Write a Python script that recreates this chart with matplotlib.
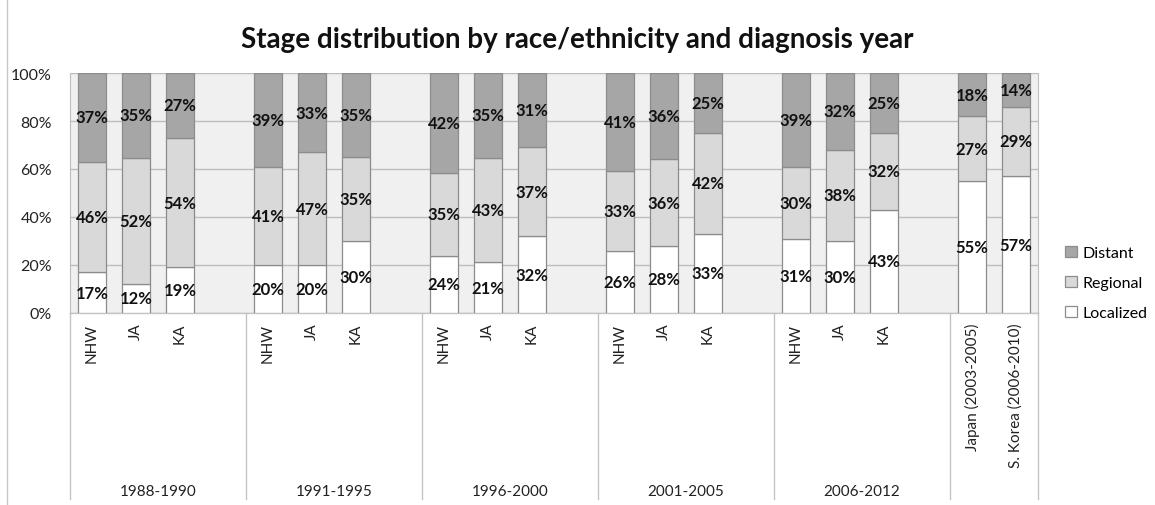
import numpy as np
import matplotlib.pyplot as plt
from matplotlib.patches import Patch
from matplotlib.lines import Line2D
from matplotlib.transforms import blended_transform_factory

plt.rcParams['font.family'] = ['Lato', 'DejaVu Sans']

years = ['1988-1990', '1991-1995', '1996-2000', '2001-2005', '2006-2012']
races = ['NHW', 'JA', 'KA']
countries = ['Japan (2003-2005)', 'S. Korea (2006-2010)']

# per year group: NHW, JA, KA
localized = [[17, 12, 19], [20, 20, 30], [24, 21, 32], [26, 28, 33], [31, 30, 43]]
regional = [[46, 52, 54], [41, 47, 35], [35, 43, 37], [33, 36, 42], [30, 38, 32]]
distant = [[37, 35, 27], [39, 33, 35], [42, 35, 31], [41, 36, 25], [39, 32, 25]]

# Japan, S. Korea
c_localized = [55, 57]
c_regional = [27, 29]
c_distant = [18, 14]

stages = ['Localized', 'Regional', 'Distant']
colors = {'Localized': '#ffffff', 'Regional': '#d9d9d9', 'Distant': '#a6a6a6'}
edge = '#8c8c8c'

# flatten into slots (one empty slot after each year group)
xs, labels, loc, reg, dis = [], [], [], [], []
for g in range(len(years)):
    for i, r in enumerate(races):
        xs.append(4 * g + i)
        labels.append(r)
        loc.append(localized[g][i])
        reg.append(regional[g][i])
        dis.append(distant[g][i])
for j, c in enumerate(countries):
    xs.append(4 * len(years) + j)
    labels.append(c)
    loc.append(c_localized[j])
    reg.append(c_regional[j])
    dis.append(c_distant[j])

xs = np.array(xs)
raw = np.array([loc, reg, dis], dtype=float)
pct = raw / raw.sum(axis=0) * 100

fig = plt.figure(figsize=(11.55, 5.06), dpi=100)
ax = fig.add_axes([70 / 1155, 1 - 314 / 506, 968 / 1155, 240 / 506])
ax.set_facecolor('#f0f0f0')

bottom = np.zeros(len(xs))
for k, s in enumerate(stages):
    ax.bar(xs, pct[k], 0.64, bottom=bottom, color=colors[s], edgecolor=edge,
           linewidth=0.9, zorder=3)
    for x, b, h, v in zip(xs, bottom, pct[k], raw[k]):
        ax.text(x, b + h / 2, '%d%%' % v, ha='center', va='center',
                fontsize=12, fontweight='bold', color='#111111', zorder=4)
    bottom += pct[k]

ax.set_xlim(-0.5, xs.max() + 0.5)
ax.set_ylim(0, 100)
ax.set_yticks(np.arange(0, 101, 20))
ax.set_yticklabels(['%d%%' % v for v in range(0, 101, 20)], fontsize=11.5, color='#222222')
ax.yaxis.grid(True, color='#bdbdbd', linewidth=1, zorder=0)
ax.set_axisbelow(True)
ax.tick_params(axis='y', length=0, pad=13)
ax.set_xticks(xs)
ax.set_xticklabels(labels, rotation=90, fontsize=11, color='#222222', va='top')
ax.tick_params(axis='x', length=0, pad=7)
for sp in ['top', 'bottom']:
    ax.spines[sp].set_visible(False)
for sp in ['left', 'right']:
    ax.spines[sp].set_color('#bdbdbd')

# group separators and year labels below the axis
tr = blended_transform_factory(ax.transData, ax.transAxes)
bounds = [-0.5] + [4 * g + 3.5 for g in range(len(years))] + [xs.max() + 0.5]
for b in bounds:
    ax.plot([b, b], [0, -0.775], transform=tr, color='#c4c4c4', lw=1, clip_on=False)
ax.plot([-0.5, xs.max() + 0.5], [0, 0], transform=tr, color='#c4c4c4', lw=1, clip_on=False)
for g, y in enumerate(years):
    ax.text(4 * g + 1.5, -0.742, y, transform=tr, ha='center', va='center',
            fontsize=11, color='#222222')

fig.text(0.5, 1 - 40 / 506, 'Stage distribution by race/ethnicity and diagnosis year',
         ha='center', va='center', fontsize=20, fontweight='bold', color='#111111')

handles = [Patch(facecolor=colors[s], edgecolor=edge, linewidth=0.9) for s in stages[::-1]]
fig.legend(handles, stages[::-1], loc='center left', frameon=False,
           bbox_to_anchor=(1051 / 1155, 1 - 284 / 506), fontsize=11.5,
           handlelength=0.7, handleheight=0.7, handletextpad=0.35, labelspacing=1.0)

fig.add_artist(Line2D([7 / 1155, 7 / 1155], [0, 1], color='#c8c8c8', lw=1))

fig.savefig('out.png', dpi=100)
